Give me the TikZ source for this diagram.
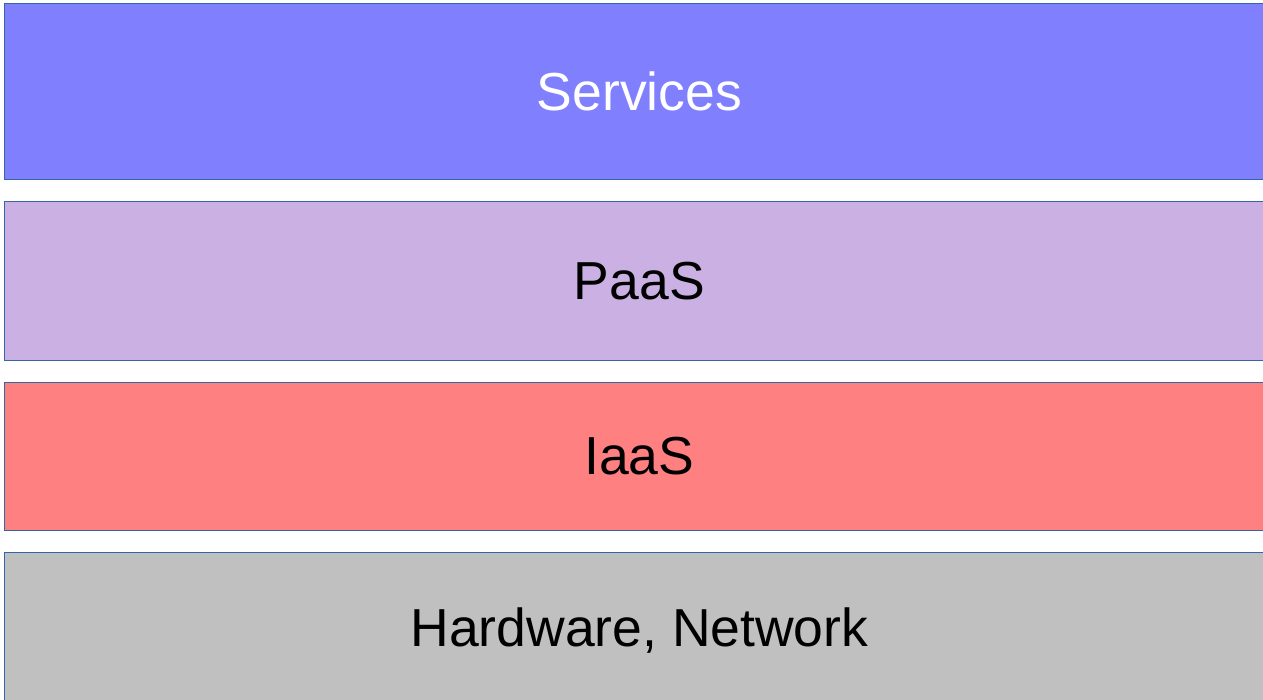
\documentclass[tikz,border=0pt]{standalone}
\usepackage{fontspec}
\setmainfont{Liberation Sans}
\usepackage{tikz}
\usetikzlibrary{positioning}
\definecolor{edgeblue}{HTML}{3465A4}
\definecolor{svcblue}{HTML}{8080FF}
\definecolor{paaslilac}{HTML}{CBB0E4}
\definecolor{iaasred}{HTML}{FF8080}
\definecolor{hwgrey}{HTML}{C0C0C0}
\tikzstyle{layer} = [rectangle, minimum width=1270pt, inner sep=0pt, text centered, draw=edgeblue, line width=0.8pt, font=\fontsize{53.5}{60}\selectfont, anchor=north west]

\begin{document}
\begin{tikzpicture}[node distance=21.2pt]
        \useasboundingbox (0,0) rectangle (1263pt,-700pt);
        \node (services) [layer, fill=svcblue, text=white, minimum height=176.5pt] at (4pt,-3pt) {Services};
        \node (paas) [layer, fill=paaslilac, minimum height=158.5pt, below=of services.south west, anchor=north west] {PaaS};
        \node (iaas) [layer, fill=iaasred, minimum height=147.5pt, below=of paas.south west, anchor=north west] {IaaS};
        \node (hardware) [layer, fill=hwgrey, minimum height=158pt, below=of iaas.south west, anchor=north west] {Hardware, Network};
\end{tikzpicture}
\end{document}
